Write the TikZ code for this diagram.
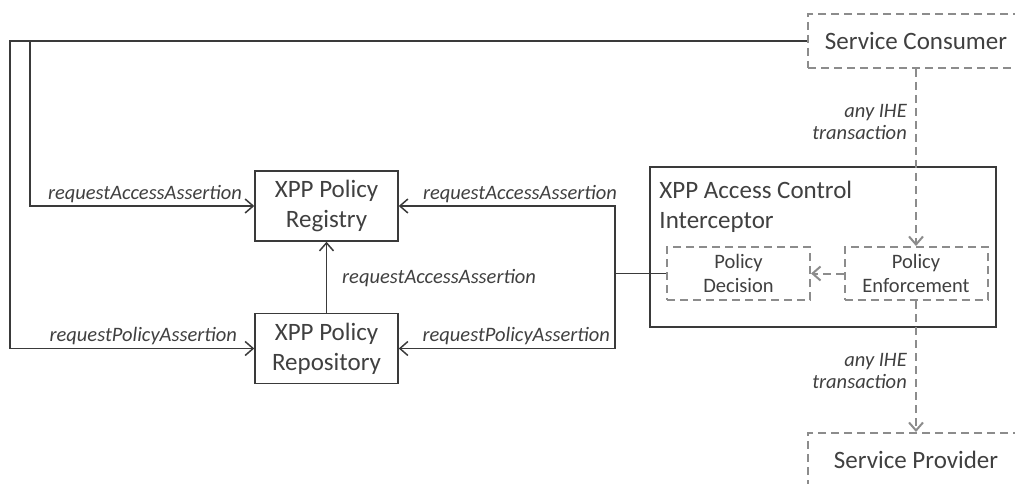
\documentclass[tikz,border=0pt]{standalone}
\usepackage{fontspec}
\setmainfont{Carlito}
\usepackage{xcolor}
\usepackage{tikz}
\usetikzlibrary{positioning,calc,arrows.meta}
\definecolor{linegray}{HTML}{3A3A3A}
\definecolor{dashgray}{HTML}{8C8C8C}
\definecolor{textgray}{HTML}{404040}
\tikzset{
  box/.style={draw=linegray,line width=1.5pt,rectangle,text=textgray,align=center,inner sep=0pt},
  dbox/.style={draw=dashgray,line width=2pt,dash pattern=on 8pt off 5pt,rectangle,text=textgray,align=center,inner sep=0pt},
  lbl/.style={font=\fontsize{20.5}{22.5}\selectfont\itshape,text=textgray,inner sep=0pt},
  tip/.style={-{Straight Barb[length=8pt,width=14pt]}},
  conn/.style={draw=linegray,line width=1.5pt},
  dconn/.style={draw=dashgray,line width=2pt,dash pattern=on 8pt off 5pt}
}

\begin{document}
\begin{tikzpicture}[x=1pt,y=-1pt]
        \useasboundingbox (0,0) rectangle (1015,484);
        \clip (0,0) rectangle (1015,484);
        \begin{scope}[every node/.style={box,minimum width=143pt,minimum height=70pt,font=\fontsize{25}{30}\selectfont}]
            \node (reg) at (326.5,206) {XPP Policy\\Registry};
            \node (repo) at (326.5,348.5) {XPP Policy\\Repository};
        \end{scope}
        \node[box,minimum width=346pt,minimum height=160pt] (icpt) at (823,247) {};
        \node[anchor=north west,align=left,inner sep=0pt,text=textgray,font=\fontsize{25}{30}\selectfont] (icpttitle) at ([shift={(10pt,-15pt)}]icpt.north west) {XPP Access Control\\Interceptor};
        \begin{scope}[every node/.style={dbox,minimum width=143pt,minimum height=53pt,font=\fontsize{20.5}{24}\selectfont}]
            \node (dec) at (738.5,273.5) {Policy\\Decision};
            \node (enf) at (916,273.5) {Policy\\Enforcement};
        \end{scope}
        \begin{scope}[every node/.style={dbox,minimum width=216pt,minimum height=54pt,font=\fontsize{25}{30}\selectfont}]
            \node (cons) at (916,41) {Service Consumer};
            \node (prov) at (916,460) {Service Provider};
        \end{scope}
        \coordinate (loopa) at (30,41);
        \coordinate (loopb) at (10,41);
        \coordinate (bracket) at (615,273.5);
        % solid connectors
        \draw[conn,tip] (cons.west) -- (loopb) |- (repo.west);
        \draw[conn,tip] (loopa) |- (reg.west);
        \draw[conn,tip] (repo) -- (reg);
        \draw[conn,tip] (bracket) |- (reg.east);
        \draw[conn,tip] (bracket) |- (repo.east);
        \draw[conn] (bracket) -- (dec.west);
        % dashed connectors
        \draw[dconn,tip] (cons.south) -- (enf.north);
        \draw[dconn,tip] (enf.south) -- (prov.north);
        \draw[dconn,tip] (enf.west) -- (dec.east);
        % labels
        \node[lbl,anchor=base east] (lbla) at (242,199) {requestAccessAssertion};
        \node[lbl,anchor=base east] (lblb) at (617,199) {requestAccessAssertion};
        \node[lbl,anchor=base west] (lblc) at (342,283) {requestAccessAssertion};
        \node[lbl,anchor=base east] (lbld) at (237,341) {requestPolicyAssertion};
        \node[lbl,anchor=base east] (lble) at (610,341) {requestPolicyAssertion};
        \node[lbl,anchor=east,align=right] (lblf) at (907,122) {any IHE\\transaction};
        \node[lbl,anchor=east,align=right] (lblg) at (907,371) {any IHE\\transaction};
\end{tikzpicture}
\end{document}
